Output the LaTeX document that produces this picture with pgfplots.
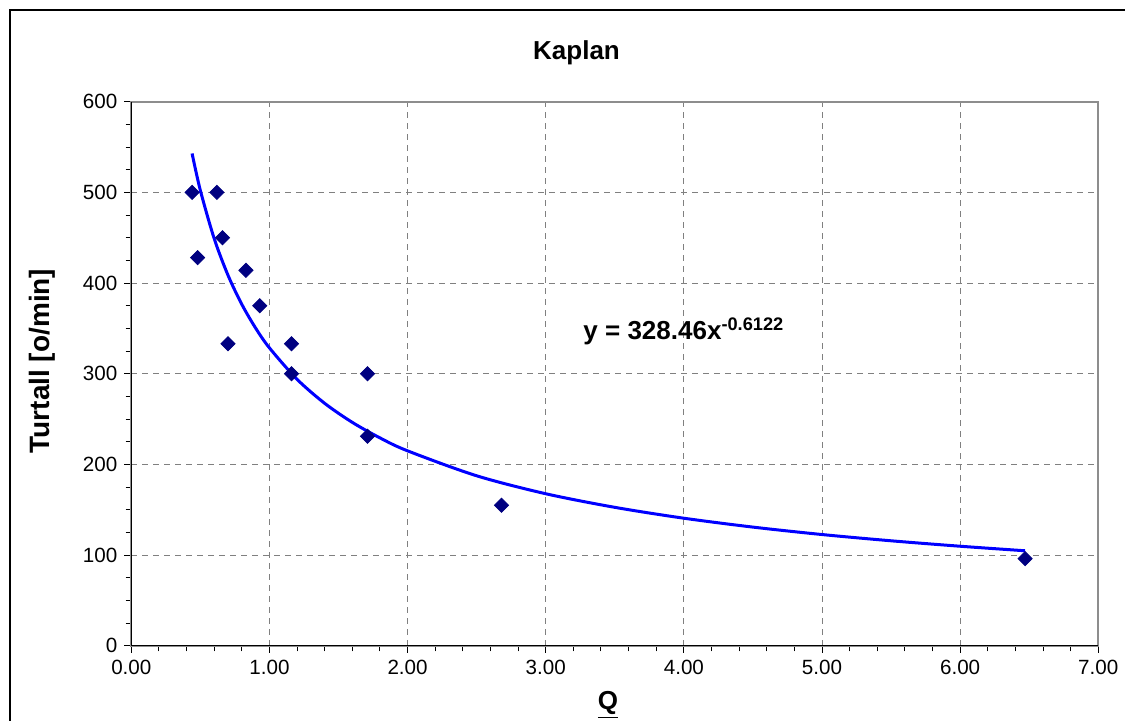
\documentclass[border=0pt]{standalone}
\usepackage{pgfplots}
\pgfplotsset{compat=1.18}
\usepackage{fontspec}
\setmainfont{Liberation Sans}
\definecolor{navy}{RGB}{0,0,128}
\definecolor{gridgray}{RGB}{128,128,128}
\begin{document}
\begin{tikzpicture}[x=0.5pt,y=0.5pt]
\path[use as bounding box] (0,0) rectangle (1125,721);
\begin{scope}
\clip (0,0) rectangle (1125,721);
\draw[black, line width=0.6pt] (10,-20) -- (10,711) -- (1160,711);
\end{scope}
\begin{axis}[
  at={(65.65pt,37.65pt)}, anchor=south west,
  scale only axis, width=483.5pt, height=272pt,
  xmin=0, xmax=7, ymin=0, ymax=600,
  xtick={0,1,...,7}, ytick={0,100,...,600},
  minor x tick num=4, minor y tick num=3,
  xtick pos=bottom, ytick pos=left,
  tick align=outside,
  major tick length=3.5pt, minor tick length=2.8pt,
  tick style={black, line width=0.5pt},
  axis line style={draw=gridgray!90, line width=1pt},
  grid=major,
  major grid style={gridgray, dashed, dash pattern=on 3pt off 2.5pt, line width=0.5pt},
  /pgf/number format/assume math mode=true,
  xticklabel style={/pgf/number format/.cd, fixed, fixed zerofill, precision=2},
  yticklabel style={/pgf/number format/.cd, fixed, precision=0},
  ticklabel style={font=\fontsize{10.3}{12}\selectfont},
  clip=false,
]
\draw[black, line width=0.6pt] (rel axis cs:0,0) -- (rel axis cs:0,1);
\draw[black, line width=0.6pt] (rel axis cs:0,0) -- (rel axis cs:1,0);
\addplot[blue, line width=1.5pt, smooth, no marks] coordinates {
  (0.44,542.9) (0.5,502.1) (0.6,449.05) (0.7,408.6) (0.8,376.5) (0.9,350.3)
  (1.0,328.46) (1.2,293.8) (1.4,267.3) (1.6,246.3) (1.8,229.2) (2.0,214.9)
  (2.5,187.4) (3.0,167.6) (3.5,152.6) (4.0,140.6) (4.5,130.8) (5.0,122.6)
  (5.5,115.7) (6.0,109.7) (6.47,104.7)
};
\addplot[only marks, mark=square*, mark size=2.5pt, mark options={rotate=45, fill=navy, draw=navy}] coordinates {
  (0.44,500) (0.62,500) (0.66,450) (0.48,428) (0.83,414) (0.93,375)
  (0.70,333) (1.16,333) (1.16,300) (1.71,300) (1.71,231) (2.68,155) (6.47,96)
};
\node[font=\bfseries\fontsize{13}{15}\selectfont] at (axis cs:4.0,347) {y = 328.46x\textsuperscript{-0.6122}};
\end{axis}
\node[font=\bfseries\fontsize{13}{15}\selectfont] at (576.5,668) {Kaplan};
\node[font=\bfseries\fontsize{14}{16}\selectfont, rotate=90] at (42,360) {Turtall [o/min]};
\node[font=\bfseries\fontsize{13}{15}\selectfont] at (608,16) {\underline{Q}};
\end{tikzpicture}
\end{document}
